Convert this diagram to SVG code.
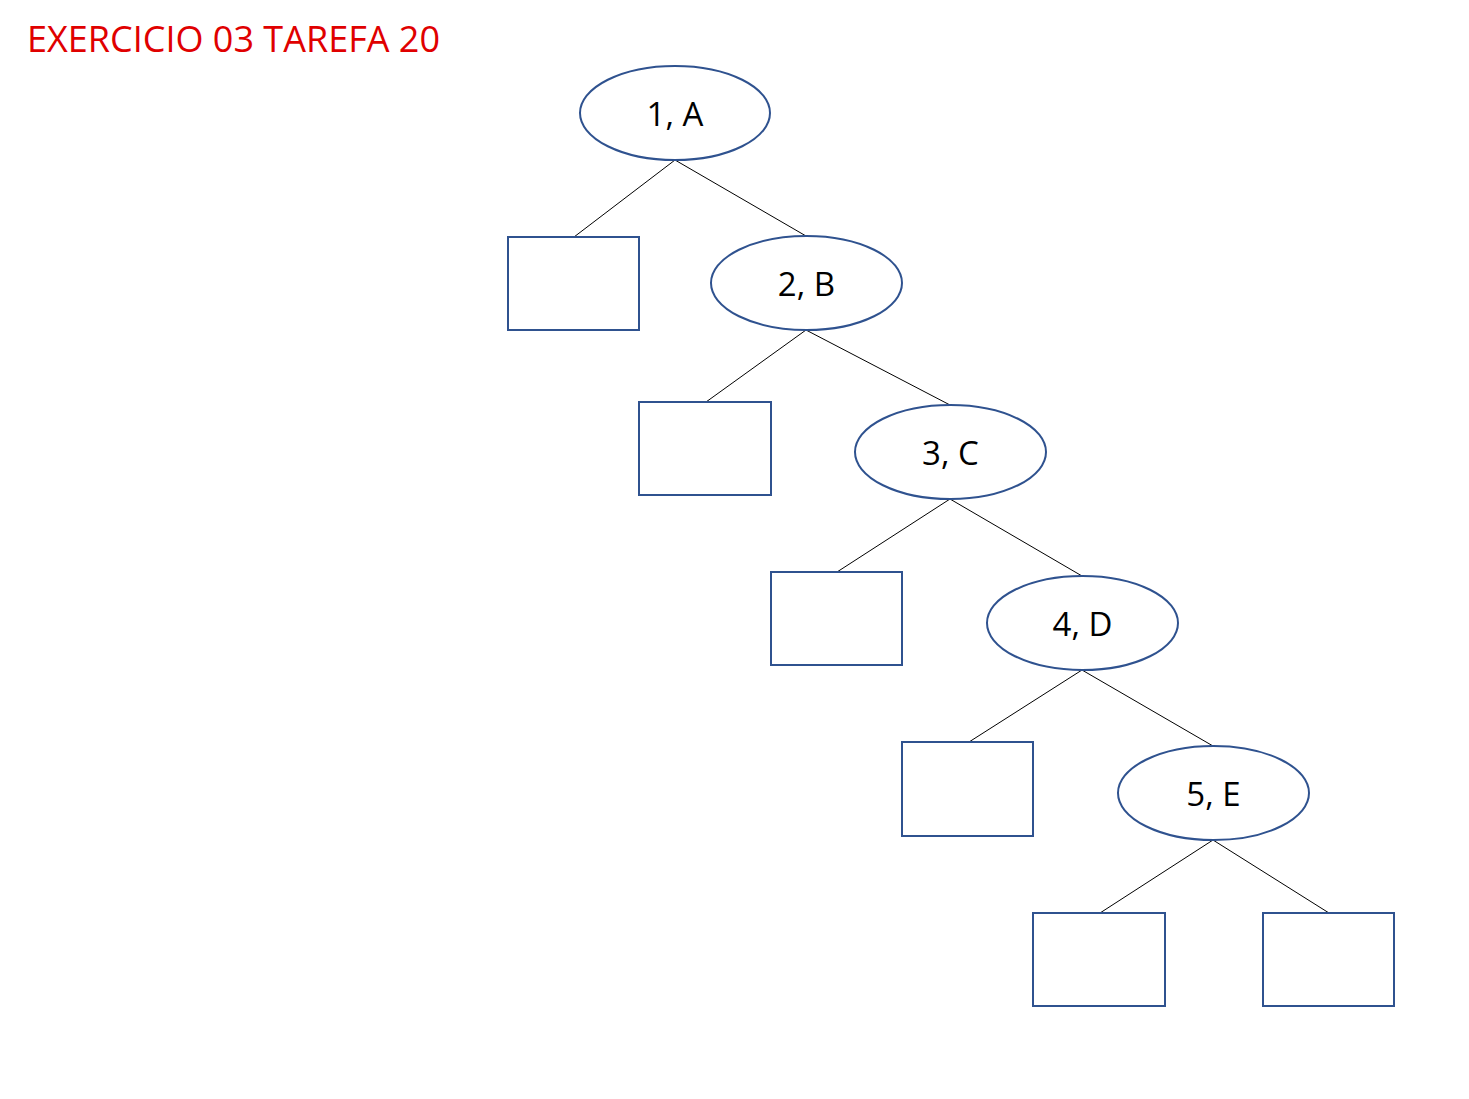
<svg xmlns="http://www.w3.org/2000/svg" width="1469" height="1099" viewBox="0 0 1469 1099">
<style>
.n{fill:#fff;stroke:#2F528F;stroke-width:2}
.t{font-family:"Open Sans","Noto Sans","Liberation Sans",sans-serif;font-size:33px;fill:#000;text-anchor:middle}
.c line{stroke:#000;stroke-width:1}
.title{font-family:"Open Sans","Noto Sans","Liberation Sans",sans-serif;font-size:36px;fill:#E00000}
</style>
<rect width="1469" height="1099" fill="#fff"/>
<text class="title" x="27" y="52" textLength="413" lengthAdjust="spacingAndGlyphs">EXERCICIO 03 TAREFA 20</text>
<g class="c" id="connectors">
<line x1="675" y1="160" x2="574" y2="237"/>
<line x1="675" y1="160" x2="806" y2="236"/>
<line x1="806" y1="330" x2="706" y2="402"/>
<line x1="806" y1="330" x2="950" y2="405"/>
<line x1="950" y1="499" x2="837" y2="572"/>
<line x1="950" y1="499" x2="1082" y2="576"/>
<line x1="1082" y1="670" x2="969" y2="742"/>
<line x1="1082" y1="670" x2="1213" y2="746"/>
<line x1="1213" y1="840" x2="1100" y2="913"/>
<line x1="1213" y1="840" x2="1329" y2="913"/>
</g>
<g id="nA"><ellipse class="n" cx="675" cy="113" rx="95" ry="47"/><text class="t" x="675" y="126">1, A</text></g>
<g id="nB"><ellipse class="n" cx="806.5" cy="283" rx="95.5" ry="47"/><text class="t" x="806.5" y="296">2, B</text></g>
<g id="nC"><ellipse class="n" cx="950.5" cy="452" rx="95.5" ry="47"/><text class="t" x="950.5" y="465">3, C</text></g>
<g id="nD"><ellipse class="n" cx="1082.5" cy="623" rx="95.5" ry="47"/><text class="t" x="1082.5" y="636">4, D</text></g>
<g id="nE"><ellipse class="n" cx="1213.5" cy="793" rx="95.5" ry="47"/><text class="t" x="1213.5" y="806">5, E</text></g>
<g id="r1"><rect class="n" x="508" y="237" width="131" height="93"/></g>
<g id="r2"><rect class="n" x="639" y="402" width="132" height="93"/></g>
<g id="r3"><rect class="n" x="771" y="572" width="131" height="93"/></g>
<g id="r4"><rect class="n" x="902" y="742" width="131" height="94"/></g>
<g id="r5"><rect class="n" x="1033" y="913" width="132" height="93"/></g>
<g id="r6"><rect class="n" x="1263" y="913" width="131" height="93"/></g>
</svg>
